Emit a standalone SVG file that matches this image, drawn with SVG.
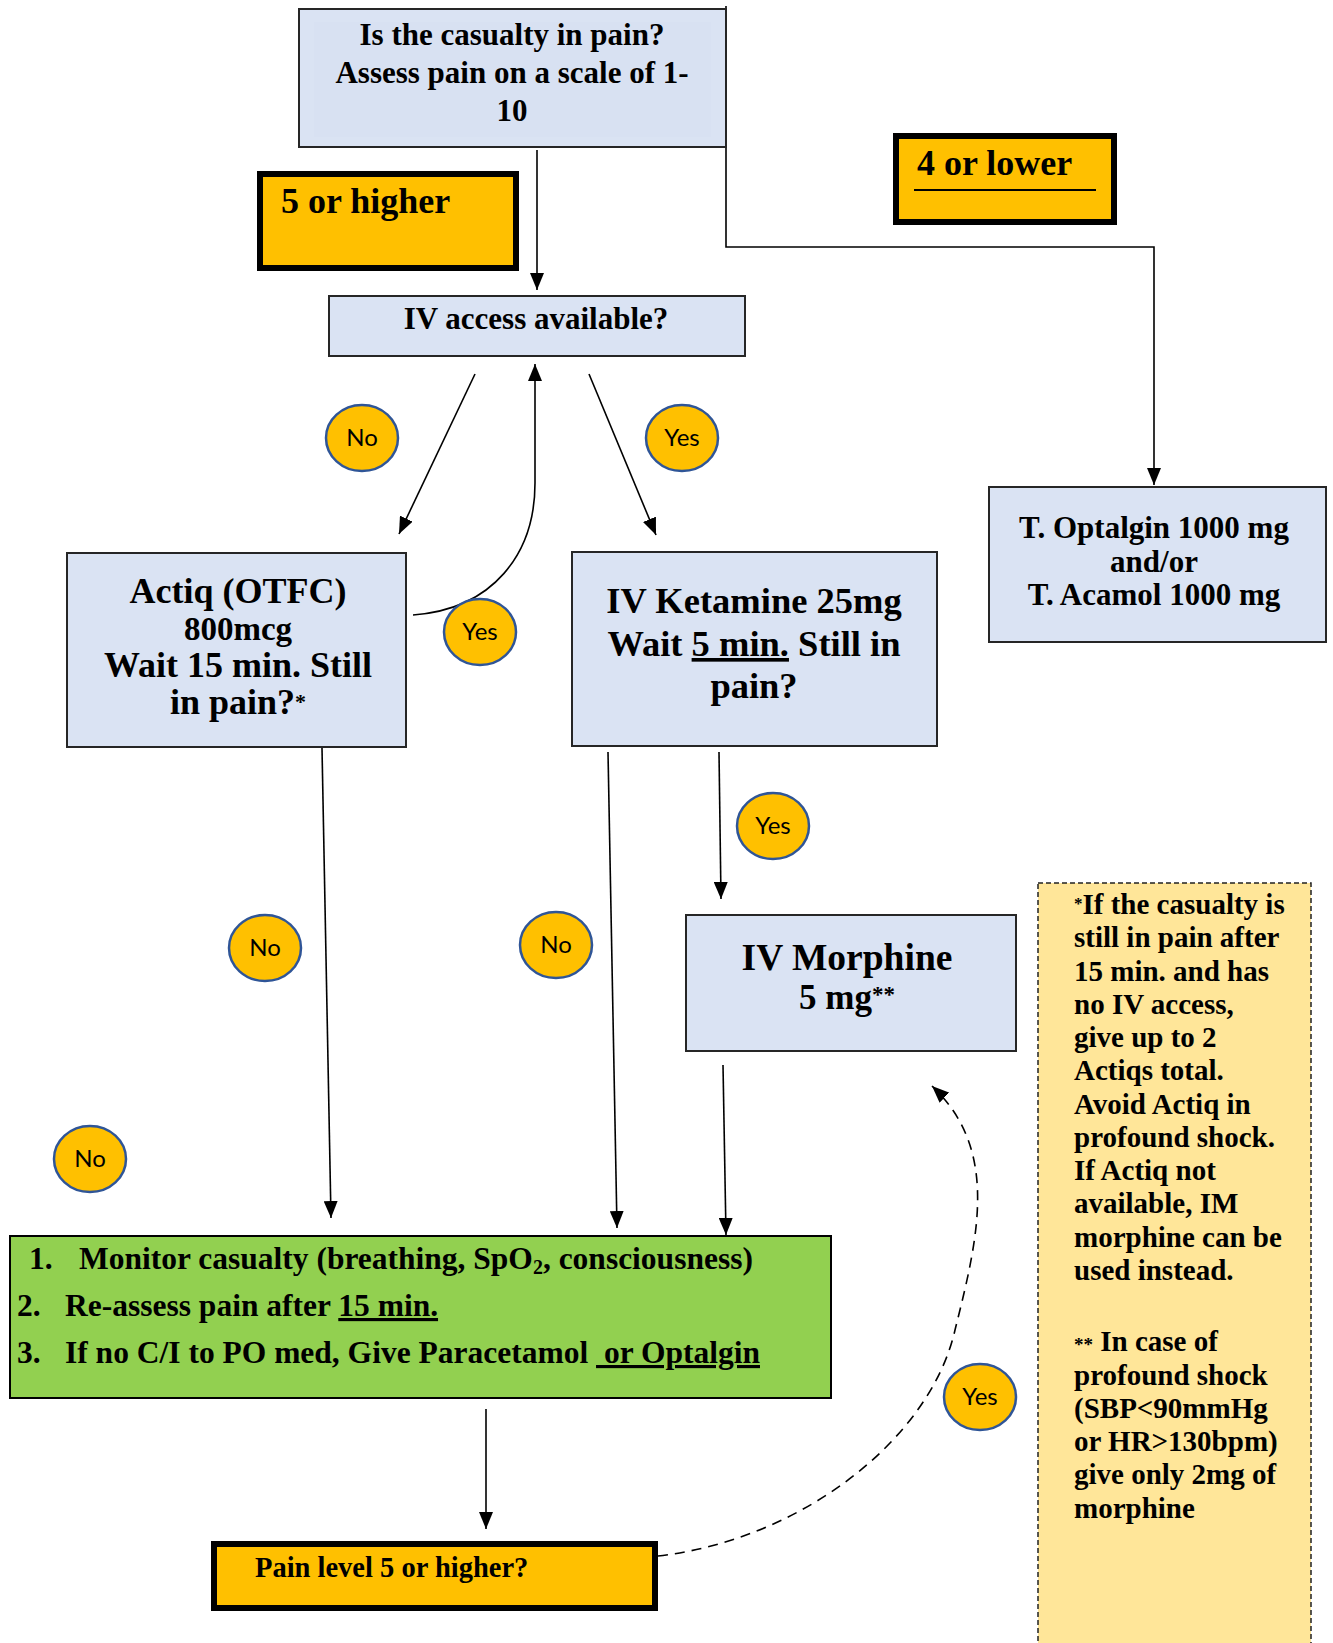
<svg xmlns="http://www.w3.org/2000/svg" width="1333" height="1643" viewBox="0 0 1333 1643">
<style>
.blue{fill:#dae3f3;stroke:#262626;stroke-width:2}
.orange{fill:#ffc000;stroke:#000;stroke-width:6}
.t{font-family:"Liberation Serif","Times New Roman",serif;font-weight:bold;fill:#000}
.c{fill:#ffc000;stroke:#2f5597;stroke-width:2.5}
.ct{font-family:Lato,"Open Sans",sans-serif;font-size:24px;fill:#000;text-anchor:middle}
.ln{fill:none;stroke:#000;stroke-width:1.6}
.mid{text-anchor:middle}
.u{text-decoration:underline}
</style>
<defs>
<marker id="ah" viewBox="0 0 17 14" refX="17" refY="7" markerWidth="17" markerHeight="14" markerUnits="userSpaceOnUse" orient="auto">
<path d="M0,0 L17,7 L0,14 z" fill="#000"/>
</marker>
</defs>
<rect width="1333" height="1643" fill="#fff"/>

<g id="connectors">
<path class="ln" d="M726,6 V247 H1154 V485" marker-end="url(#ah)"/>
<line class="ln" x1="537" y1="150" x2="537" y2="290" marker-end="url(#ah)"/>
<line class="ln" x1="475" y1="374" x2="399" y2="534" marker-end="url(#ah)"/>
<line class="ln" x1="589" y1="374" x2="656" y2="535" marker-end="url(#ah)"/>
<path class="ln" d="M413,615 C493,609 535,554 535,483 L535,364" marker-end="url(#ah)"/>
<line class="ln" x1="322" y1="748" x2="331" y2="1218" marker-end="url(#ah)"/>
<line class="ln" x1="608" y1="752" x2="617" y2="1228" marker-end="url(#ah)"/>
<line class="ln" x1="719" y1="752" x2="721" y2="899" marker-end="url(#ah)"/>
<line class="ln" x1="723" y1="1065" x2="726" y2="1235" marker-end="url(#ah)"/>
<line class="ln" x1="486" y1="1409" x2="486" y2="1529" marker-end="url(#ah)"/>
<path class="ln" d="M658,1556 C800,1540 930,1440 955,1330 C978,1238 1000,1150 932,1086" stroke-width="3" stroke-dasharray="10,7" marker-end="url(#ah)"/>
</g>

<g id="n_top">
<rect class="blue" x="299" y="9" width="427" height="138"/>
<rect x="314" y="22" width="397" height="115" fill="#d8e1f2"/>
<text class="t mid" font-size="31" x="512" y="45">Is the casualty in pain?</text>
<text class="t mid" font-size="31" x="512" y="83">Assess pain on a scale of 1-</text>
<text class="t mid" font-size="31" x="512" y="121">10</text>
</g>

<g id="n_5higher">
<rect class="orange" x="260" y="174" width="256" height="94"/>
<text class="t" font-size="36" x="281" y="213">5 or higher</text>
</g>

<g id="n_4lower">
<rect class="orange" x="896" y="136" width="218" height="86"/>
<text class="t" font-size="36" x="917" y="175">4 or lower</text>
<line x1="914" y1="190" x2="1096" y2="190" stroke="#000" stroke-width="2"/>
</g>

<g id="n_iv">
<rect class="blue" x="329" y="296" width="416" height="60"/>
<text class="t mid" font-size="31" x="536" y="329">IV access available?</text>
</g>

<g id="c_no1"><ellipse class="c" cx="362" cy="438" rx="36" ry="33"/><text class="ct" x="362" y="446">No</text></g>
<g id="c_yes1"><ellipse class="c" cx="682" cy="438" rx="36" ry="33"/><text class="ct" x="682" y="446">Yes</text></g>
<g id="c_yes2"><ellipse class="c" cx="480" cy="632" rx="36" ry="33"/><text class="ct" x="480" y="640">Yes</text></g>

<g id="n_actiq">
<rect class="blue" x="67" y="553" width="339" height="194"/>
<text class="t mid" font-size="36" x="238" y="603">Actiq (OTFC)</text>
<text class="t mid" font-size="33" x="238" y="640">800mcg</text>
<text class="t mid" font-size="36" x="238" y="677">Wait 15 min. Still</text>
<text class="t mid" font-size="36" x="238" y="714">in pain?<tspan font-size="22" dy="-5">*</tspan></text>
</g>

<g id="n_ketamine">
<rect class="blue" x="572" y="552" width="365" height="194"/>
<text class="t mid" font-size="36.5" x="754" y="613">IV Ketamine 25mg</text>
<text class="t mid" font-size="36.5" x="754" y="656">Wait <tspan class="u">5 min.</tspan> Still in</text>
<text class="t mid" font-size="36.5" x="754" y="698">pain?</text>
</g>

<g id="n_optalgin">
<rect class="blue" x="989" y="487" width="337" height="155"/>
<text class="t mid" font-size="31" x="1154" y="538">T. Optalgin 1000 mg</text>
<text class="t mid" font-size="31" x="1154" y="572">and/or</text>
<text class="t mid" font-size="31" x="1154" y="605">T. Acamol 1000 mg</text>
</g>

<g id="c_yes3"><ellipse class="c" cx="773" cy="826" rx="36" ry="33"/><text class="ct" x="773" y="834">Yes</text></g>
<g id="c_no2"><ellipse class="c" cx="265" cy="948" rx="36" ry="33"/><text class="ct" x="265" y="956">No</text></g>
<g id="c_no3"><ellipse class="c" cx="556" cy="945" rx="36" ry="33"/><text class="ct" x="556" y="953">No</text></g>
<g id="c_no4"><ellipse class="c" cx="90" cy="1159" rx="36" ry="33"/><text class="ct" x="90" y="1167">No</text></g>
<g id="c_yes4"><ellipse class="c" cx="980" cy="1397" rx="36" ry="33"/><text class="ct" x="980" y="1405">Yes</text></g>

<g id="n_morphine">
<rect class="blue" x="686" y="915" width="330" height="136"/>
<text class="t mid" font-size="37.5" x="847" y="970">IV Morphine</text>
<text class="t mid" font-size="35" x="847" y="1009">5 mg<tspan font-size="23" dy="-7">**</tspan></text>
</g>

<g id="n_monitor">
<rect x="10" y="1236" width="821" height="162" fill="#92d050" stroke="#000" stroke-width="2"/>
<text class="t" font-size="31.5" x="29" y="1269">1.</text>
<text class="t" font-size="31.5" x="79" y="1269">Monitor casualty (breathing, SpO<tspan font-size="20" dy="5">2</tspan><tspan dy="-5">, consciousness)</tspan></text>
<text class="t" font-size="31.5" x="17" y="1316">2.</text>
<text class="t" font-size="31.5" x="65" y="1316">Re-assess pain after <tspan class="u">15 min.</tspan></text>
<text class="t" font-size="31.5" x="17" y="1363">3.</text>
<text class="t" font-size="31.5" x="65" y="1363">If no C/I to PO med, Give Paracetamol <tspan class="u" xml:space="preserve"> or Optalgin</tspan></text>
</g>

<g id="n_painlevel">
<rect class="orange" x="214" y="1544" width="441" height="64"/>
<text class="t" font-size="28.5" x="255" y="1577">Pain level 5 or higher?</text>
</g>

<g id="n_note">
<rect x="1038" y="883" width="273" height="790" fill="#ffe699" stroke="#222" stroke-width="1.5" stroke-dasharray="5,3"/>
<g class="t" font-size="29">
<text x="1074" y="914"><tspan font-size="17" dy="-5">*</tspan><tspan dy="5">If the casualty is</tspan></text>
<text x="1074" y="947">still in pain after</text>
<text x="1074" y="981">15 min. and has</text>
<text x="1074" y="1014">no IV access,</text>
<text x="1074" y="1047">give up to 2</text>
<text x="1074" y="1080">Actiqs total.</text>
<text x="1074" y="1114">Avoid Actiq in</text>
<text x="1074" y="1147">profound shock.</text>
<text x="1074" y="1180">If Actiq not</text>
<text x="1074" y="1213">available, IM</text>
<text x="1074" y="1247">morphine can be</text>
<text x="1074" y="1280">used instead.</text>
<text x="1074" y="1351"><tspan font-size="19">**</tspan> In case of</text>
<text x="1074" y="1385">profound shock</text>
<text x="1074" y="1418">(SBP&lt;90mmHg</text>
<text x="1074" y="1451">or HR&gt;130bpm)</text>
<text x="1074" y="1484">give only 2mg of</text>
<text x="1074" y="1518">morphine</text>
</g>
</g>
</svg>
